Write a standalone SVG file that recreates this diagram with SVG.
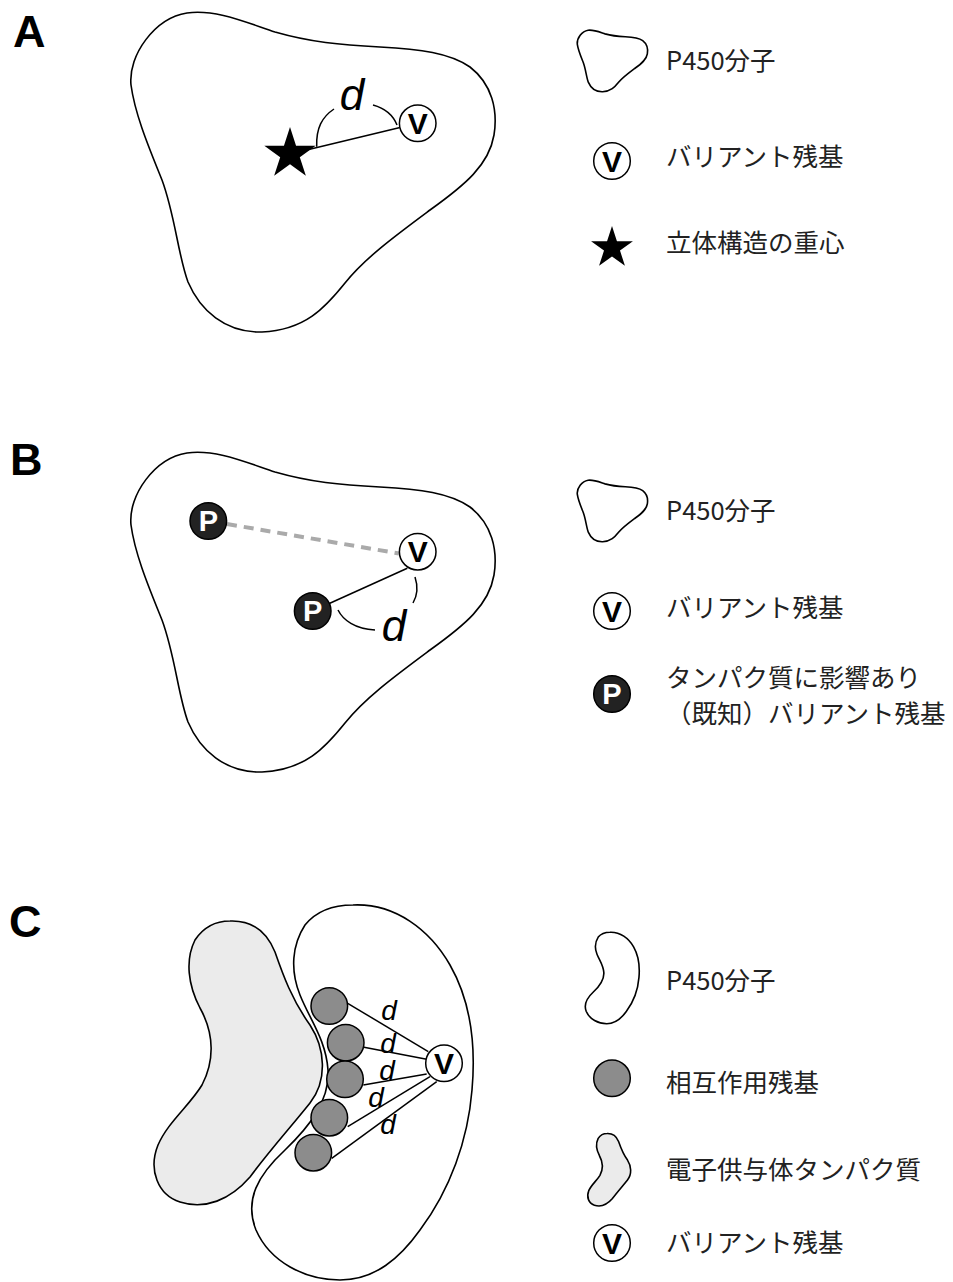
<svg xmlns="http://www.w3.org/2000/svg" width="953" height="1282" viewBox="0 0 953 1282">
<style>
.outline{fill:#fff;stroke:#000;stroke-width:1.6;}
.donor{fill:#ebebeb;stroke:#000;stroke-width:1.6;}
.vc{fill:#fff;stroke:#000;stroke-width:1.5;}
.pc{fill:#222;stroke:#000;stroke-width:1.5;}
.gc{fill:#8c8c8c;stroke:#000;stroke-width:1.5;}
.vt{font-family:"Liberation Sans",Arial,sans-serif;font-weight:bold;font-size:30px;text-anchor:middle;fill:#000;}
.pt{font-family:"Liberation Sans",Arial,sans-serif;font-weight:bold;font-size:29px;text-anchor:middle;fill:#fff;}
.lbl{font-family:"Liberation Sans",Arial,sans-serif;font-weight:bold;font-size:45px;fill:#000;}
.leg{font-family:"Noto Sans CJK JP","Noto Sans",sans-serif;font-size:25.5px;fill:#222;}
.d{font-family:"Liberation Sans",Arial,sans-serif;font-style:italic;font-size:44px;text-anchor:middle;fill:#000;}
.ds{font-size:28px;}
.ln{stroke:#000;stroke-width:1.5;fill:none;}
.dash{stroke:#aaa;stroke-width:4;stroke-dasharray:10 7;fill:none;}
.star{fill:#000;}
</style>
<defs>
<path id="shapeA" vector-effect="non-scaling-stroke" d="M187,13 C215,9 245,22 275,32 C310,42 340,45 380,47 C420,49 450,53 470,67 C492,84 498,110 494,135 C489,165 465,185 430,210 C395,236 365,258 345,283 C325,308 305,330 262,332 C225,333 200,310 188,282 C178,255 175,215 162,180 C150,150 135,115 131,85 C128,55 155,18 187,13 Z"/>
<path id="kidney" vector-effect="non-scaling-stroke" d="M353,905 C395,903 430,930 450,965 C470,1000 476,1045 472,1090 C468,1140 450,1190 420,1230 C400,1258 375,1280 340,1280 C305,1280 270,1262 256,1230 C244,1200 258,1175 285,1150 C310,1126 330,1100 328,1070 C326,1040 310,1020 300,995 C290,970 292,945 305,925 C318,909 335,905 353,905 Z"/>
<path id="donorShape" vector-effect="non-scaling-stroke" d="M230,921 C255,920 268,935 275,952 C283,975 292,1000 310,1025 C325,1048 328,1080 310,1103 C290,1128 270,1150 250,1177 C230,1200 205,1210 180,1202 C158,1195 148,1170 158,1145 C168,1122 190,1105 202,1085 C214,1062 215,1035 200,1008 C188,985 185,960 195,940 C203,928 215,921 230,921 Z"/>
<path id="star" d="M0,-100 L22.45,-30.9 L95.11,-30.9 L36.33,11.8 L58.78,80.9 L0,38.2 L-58.78,80.9 L-36.33,11.8 L-95.11,-30.9 L-22.45,-30.9 Z"/>
</defs>

<g id="labels">
<text class="lbl" x="13" y="47">A</text>
<text class="lbl" x="10" y="475">B</text>
<text class="lbl" x="9" y="937">C</text>
</g>

<!-- Panel A -->
<g id="A-p450"><use href="#shapeA" class="outline"/></g>

<!-- Panel B -->
<g id="B-p450"><use href="#shapeA" class="outline" transform="translate(0,440)"/></g>

<!-- Panel C -->
<g id="C-donor"><use href="#donorShape" class="donor"/></g>
<g id="C-p450"><use href="#kidney" class="outline"/></g>

<g id="connectors">
<!-- A -->
<line class="ln" x1="290" y1="154" x2="417.7" y2="123.3"/>
<path class="ln" d="M316.7,146.7 C316,128 322,117 334,109"/>
<path class="ln" d="M373,105 C384,108 393,115 397,125"/>
<!-- B -->
<line class="dash" x1="227" y1="524" x2="399" y2="553.5"/>
<line class="ln" x1="312.7" y1="611" x2="407.3" y2="568.3"/>
<path class="ln" d="M415,577 C418,586 417,596 413,603"/>
<path class="ln" d="M338,610 C343,620 355,629 375,630"/>
<!-- C -->
<line class="ln" x1="347.7" y1="1003.3" x2="428.3" y2="1051.7"/>
<line class="ln" x1="364" y1="1047.3" x2="426.7" y2="1059.3"/>
<line class="ln" x1="363.3" y1="1085" x2="426.7" y2="1074"/>
<line class="ln" x1="347.7" y1="1126.7" x2="430" y2="1076.7"/>
<line class="ln" x1="331.7" y1="1158.3" x2="436.7" y2="1081.7"/>
</g>

<g id="A-centroid"><use href="#star" class="star" transform="translate(290,154) scale(0.27)"/></g>
<g id="A-variant">
<circle class="vc" cx="417.7" cy="123.3" r="18.3"/>
<text class="vt" x="417.7" y="134">V</text>
</g>
<text class="d" x="352" y="110">d</text>

<g id="B-known1">
<circle class="pc" cx="208.3" cy="521" r="18.3"/>
<text class="pt" x="208.3" y="531.4">P</text>
</g>
<g id="B-known2">
<circle class="pc" cx="312.7" cy="611" r="18.3"/>
<text class="pt" x="312.7" y="621.4">P</text>
</g>
<g id="B-variant">
<circle class="vc" cx="417.7" cy="551.7" r="18.3"/>
<text class="vt" x="417.7" y="562.4">V</text>
</g>
<text class="d" x="394" y="641">d</text>

<g id="C-residues">
<circle class="gc" cx="329.3" cy="1006" r="18.3"/>
<circle class="gc" cx="345.7" cy="1042.7" r="18.3"/>
<circle class="gc" cx="345" cy="1079.3" r="18.3"/>
<circle class="gc" cx="329.3" cy="1117.7" r="18.3"/>
<circle class="gc" cx="313.3" cy="1152.7" r="18.3"/>
</g>
<g id="C-variant">
<circle class="vc" cx="444" cy="1063.3" r="18.3"/>
<text class="vt" x="444" y="1074">V</text>
</g>
<g id="C-dlabels">
<text class="d ds" x="389" y="1020">d</text>
<text class="d ds" x="388" y="1053">d</text>
<text class="d ds" x="387" y="1080">d</text>
<text class="d ds" x="376" y="1107">d</text>
<text class="d ds" x="388" y="1134">d</text>
</g>

<!-- Legend A -->
<g id="legA-p450">
<use href="#shapeA" class="outline" transform="translate(552,27.7) scale(0.193)"/>
<text class="leg" x="666" y="70">P450分子</text>
</g>
<g id="legA-variant">
<circle class="vc" cx="612" cy="161" r="18.3"/>
<text class="vt" x="612" y="171.7">V</text>
<text class="leg" x="666" y="166">バリアント残基</text>
</g>
<g id="legA-centroid">
<use href="#star" class="star" transform="translate(612,248) scale(0.22)"/>
<text class="leg" x="666" y="252">立体構造の重心</text>
</g>

<!-- Legend B -->
<g id="legB-p450">
<use href="#shapeA" class="outline" transform="translate(552,477.7) scale(0.193)"/>
<text class="leg" x="666" y="520">P450分子</text>
</g>
<g id="legB-variant">
<circle class="vc" cx="612" cy="611" r="18.3"/>
<text class="vt" x="612" y="621.7">V</text>
<text class="leg" x="666" y="617">バリアント残基</text>
</g>
<g id="legB-known">
<circle class="pc" cx="612" cy="694" r="18.3"/>
<text class="pt" x="612" y="704.4">P</text>
<text class="leg" x="666" y="687">タンパク質に影響あり</text>
<text class="leg" x="666" y="723">（既知）バリアント残基</text>
</g>

<!-- Legend C -->
<g id="legC-p450">
<use href="#kidney" class="outline" transform="translate(523.8,711.4) scale(0.244)"/>
<text class="leg" x="666" y="990">P450分子</text>
</g>
<g id="legC-residue">
<circle class="gc" cx="612" cy="1078.3" r="18.3"/>
<text class="leg" x="666" y="1092">相互作用残基</text>
</g>
<g id="legC-donor">
<use href="#donorShape" class="donor" transform="translate(548.45,898.7) scale(0.255)"/>
<text class="leg" x="666" y="1179">電子供与体タンパク質</text>
</g>
<g id="legC-variant">
<circle class="vc" cx="612" cy="1243" r="18.3"/>
<text class="vt" x="612" y="1253.7">V</text>
<text class="leg" x="666" y="1252">バリアント残基</text>
</g>
</svg>
